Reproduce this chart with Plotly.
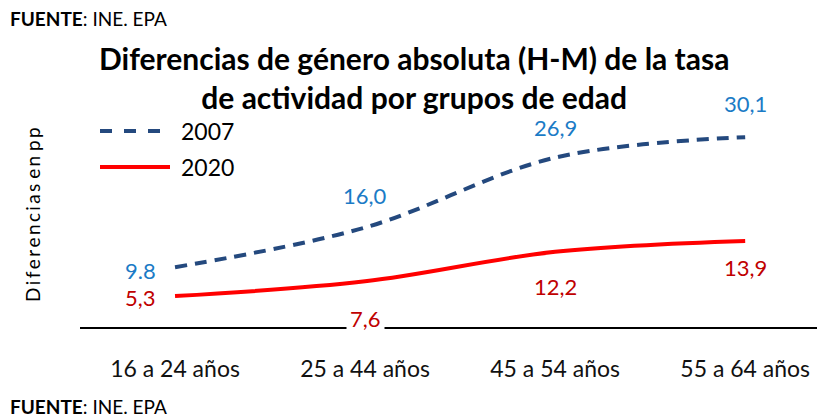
import plotly.graph_objects as go

# ---- data ----
categories = ["16 a 24 años", "25 a 44 años", "45 a 54 años", "55 a 64 años"]
values_2007 = [9.8, 16.0, 26.9, 30.1]
values_2020 = [5.3, 7.6, 12.2, 13.9]
labels_2007 = ["9.8", "16,0", "26,9", "30,1"]
labels_2020 = ["5,3", "7,6", "12,2", "13,9"]
series_names = ["2007", "2020"]

# ---- style ----
OFF = 8  # page body margin
W, H = 825 - OFF, 417 - OFF
ML, MR, MT, MB = 72, 0, 92, 90
PW, PH = W - ML - MR, H - MT - MB
FONT = "Lato"
C07_LINE, C07_TXT = "#24497E", "#1B7BC6"
C20_LINE, C20_TXT = "#FF0000", "#C00000"

def px(xpage):
    return (xpage - OFF - ML) / PW

def py(ypage):
    return (H - MB - (ypage - OFF)) / PH

fig = go.Figure()
fig.add_trace(go.Scatter(x=categories, y=values_2007, mode="lines", name=series_names[0],
                         line=dict(color=C07_LINE, width=4, dash="12px,8px", shape="spline"),
                         showlegend=False))
fig.add_trace(go.Scatter(x=categories, y=values_2020, mode="lines", name=series_names[1],
                         line=dict(color=C20_LINE, width=4, shape="spline"),
                         showlegend=False))

# label offsets (pixels)
off07 = [(-35, -3), (0, 32), (0, 30), (0, 34)]
off20 = [(-35, -1), (0, -37), (0, -35), (0, -27)]
ann = []
for c, v, t, (dx, dy) in zip(categories, values_2007, labels_2007, off07):
    ann.append(dict(x=c, y=v, xref="x", yref="y", text=t, showarrow=False,
                    xshift=dx, yshift=dy, font=dict(family=FONT, size=22, color=C07_TXT)))
for c, v, t, (dx, dy) in zip(categories, values_2020, labels_2020, off20):
    ann.append(dict(x=c, y=v, xref="x", yref="y", text=t, showarrow=False,
                    xshift=dx, yshift=dy, font=dict(family=FONT, size=22, color=C20_TXT),
                    bgcolor="white", borderpad=3))

# title
ann.append(dict(x=px(414), y=py(78), xref="paper", yref="paper", xanchor="center", yanchor="middle",
                text="<b>Diferencias de género absoluta (H-M) de la tasa<br>de actividad por grupos de edad</b>",
                showarrow=False, font=dict(family=FONT, size=30, color="black")))

# source notes
for yp in (18, 406):
    ann.append(dict(x=px(8), y=py(yp), xref="paper", yref="paper", xanchor="left", yanchor="middle",
                    text="<b>FUENTE</b>: INE. EPA", showarrow=False,
                    font=dict(family=FONT, size=19, color="black")))

# y axis title
thin = "\u2009"
ytitle = " ".join(thin.join(w) for w in "Diferencias en pp".split(" "))
ann.append(dict(x=px(32), y=py(215), xref="paper", yref="paper", xanchor="center", yanchor="middle",
                text=ytitle, textangle=-90, showarrow=False,
                font=dict(family=FONT, size=19, color="black")))

# manual legend
shapes = []
for name, yp, col, dash in ((series_names[0], 131, C07_LINE, "dash"), (series_names[1], 167, C20_LINE, "solid")):
    shapes.append(dict(type="line", xref="paper", yref="paper", x0=px(100), x1=px(170),
                       y0=py(yp), y1=py(yp), line=dict(color=col, width=4, dash=dash)))
    ann.append(dict(x=px(179), y=py(yp), xref="paper", yref="paper", xanchor="left", yanchor="middle",
                    text=name, showarrow=False, font=dict(family=FONT, size=23, color="black")))

fig.update_layout(
    width=W, height=H,
    margin=dict(l=ML, r=MR, t=MT, b=MB),
    paper_bgcolor="white", plot_bgcolor="white",
    annotations=ann, shapes=shapes,
    xaxis=dict(type="category", range=[-0.5, 3.42], showline=True, linecolor="black", linewidth=2,
               showgrid=False, zeroline=False, ticks="outside", ticklen=20, tickcolor="rgba(0,0,0,0)",
               tickfont=dict(family=FONT, size=23, color="#111")),
    yaxis=dict(range=[0.47, 35.9], showline=False, showgrid=False, zeroline=False, showticklabels=False),
    showlegend=False,
)

fig.write_html("out.html")
